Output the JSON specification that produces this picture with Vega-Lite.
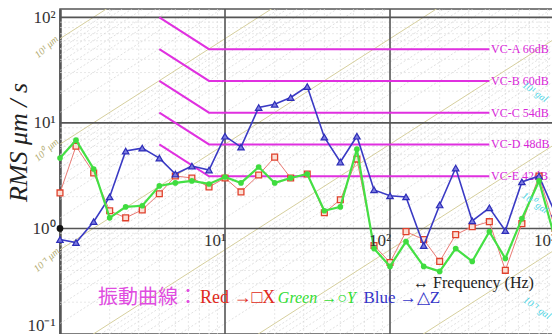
{
  "$schema": "https://vega.github.io/schema/vega-lite/v6.json",
  "width": 494,
  "height": 325,
  "autosize": {"type": "none"},
  "padding": {"left": 60, "top": 9, "right": 0, "bottom": 0},
  "background": "white",
  "config": {
    "view": {"stroke": "#555", "strokeWidth": 1.5},
    "font": "Liberation Serif"
  },
  "datasets": {
    "bands": [
      {"f": 1, "X": 2.17, "Y": 4.64, "Z": 0.785},
      {"f": 1.25, "X": 6.02, "Y": 6.86, "Z": 0.735},
      {"f": 1.6, "X": 3.35, "Y": 3.66, "Z": 1.16},
      {"f": 2, "X": 1.47, "Y": 1.26, "Z": 1.99},
      {"f": 2.5, "X": 1.26, "Y": 1.6, "Z": 5.41},
      {"f": 3.15, "X": 1.5, "Y": 1.64, "Z": 5.77},
      {"f": 4, "X": 2.13, "Y": 2.53, "Z": 4.64},
      {"f": 5, "X": 3.14, "Y": 2.7, "Z": 3.28},
      {"f": 6.3, "X": 3.01, "Y": 2.82, "Z": 3.9},
      {"f": 8, "X": 2.47, "Y": 2.64, "Z": 3.58},
      {"f": 10, "X": 3.01, "Y": 3.07, "Z": 7.48},
      {"f": 12.5, "X": 2.22, "Y": 2.7, "Z": 5.89},
      {"f": 16, "X": 3.21, "Y": 3.82, "Z": 14.0},
      {"f": 20, "X": 4.74, "Y": 2.7, "Z": 15.0},
      {"f": 25, "X": 3.01, "Y": 3.01, "Z": 17.4},
      {"f": 31.5, "X": 3.28, "Y": 3.28, "Z": 22.1},
      {"f": 40, "X": 1.41, "Y": 1.47, "Z": 7.33},
      {"f": 50, "X": 1.87, "Y": 1.6, "Z": 4.26},
      {"f": 63, "X": 4.54, "Y": 5.64, "Z": 7.48},
      {"f": 80, "X": 0.689, "Y": 0.645, "Z": 2.32},
      {"f": 100, "X": 0.476, "Y": 0.437, "Z": 2.04},
      {"f": 125, "X": 0.933, "Y": 0.751, "Z": 1.99},
      {"f": 160, "X": 0.785, "Y": 0.437, "Z": 0.689},
      {"f": 200, "X": 0.487, "Y": 0.392, "Z": 1.67},
      {"f": 250, "X": 0.874, "Y": 0.645, "Z": 3.74},
      {"f": 315, "X": 1.04, "Y": 0.487, "Z": 1.18},
      {"f": 400, "X": 1.16, "Y": 0.933, "Z": 1.57},
      {"f": 500, "X": 0.401, "Y": 0.519, "Z": 0.953},
      {"f": 630, "X": 1.11, "Y": 1.24, "Z": 2.76},
      {"f": 800, "X": 3.14, "Y": 2.82, "Z": 3.14},
      {"f": 1000, "X": 1.0, "Y": 0.8, "Z": 1.4}
    ],
    "vc": [
      {"vc": "A", "f": 4, "v": 100}, {"vc": "A", "f": 8, "v": 50}, {"vc": "A", "f": 400, "v": 50},
      {"vc": "B", "f": 4, "v": 50}, {"vc": "B", "f": 8, "v": 25}, {"vc": "B", "f": 400, "v": 25},
      {"vc": "C", "f": 4, "v": 25}, {"vc": "C", "f": 8, "v": 12.5}, {"vc": "C", "f": 400, "v": 12.5},
      {"vc": "D", "f": 4, "v": 12.5}, {"vc": "D", "f": 8, "v": 6.25}, {"vc": "D", "f": 400, "v": 6.25},
      {"vc": "E", "f": 4, "v": 6.25}, {"vc": "E", "f": 8, "v": 3.125}, {"vc": "E", "f": 400, "v": 3.125}
    ],
    "vcLabels": [
      {"label": "VC-A 66dB", "f": 410, "v": 50},
      {"label": "VC-B 60dB", "f": 410, "v": 25},
      {"label": "VC-C 54dB", "f": 410, "v": 12.5},
      {"label": "VC-D 48dB", "f": 410, "v": 6.25},
      {"label": "VC-E 42dB", "f": 410, "v": 3.125}
    ],
    "gridXMinor": [
      {"f": 2}, {"f": 3}, {"f": 4}, {"f": 5}, {"f": 6}, {"f": 7}, {"f": 8}, {"f": 9},
      {"f": 20}, {"f": 30}, {"f": 40}, {"f": 50}, {"f": 60}, {"f": 70}, {"f": 80}, {"f": 90},
      {"f": 200}, {"f": 300}, {"f": 400}, {"f": 500}, {"f": 600}, {"f": 700}, {"f": 800}, {"f": 900}
    ],
    "gridYMinor": [
      {"v": 0.2}, {"v": 0.3}, {"v": 0.4}, {"v": 0.5}, {"v": 0.6}, {"v": 0.7}, {"v": 0.8}, {"v": 0.9},
      {"v": 2}, {"v": 3}, {"v": 4}, {"v": 5}, {"v": 6}, {"v": 7}, {"v": 8}, {"v": 9},
      {"v": 20}, {"v": 30}, {"v": 40}, {"v": 50}, {"v": 60}, {"v": 70}, {"v": 80}, {"v": 90}
    ],
    "gridXMajor": [{"f": 10}, {"f": 100}],
    "gridYMajor": [{"v": 1}, {"v": 10}, {"v": 100}],
    "dispMajor": [
      {"d": 0.0001, "f1": 1, "f2": 1000, "v1": 0.00062832, "v2": 0.62832},
      {"d": 0.001, "f1": 1, "f2": 1000, "v1": 0.0062832, "v2": 6.2832},
      {"d": 0.01, "f1": 1, "f2": 1000, "v1": 0.062832, "v2": 62.832},
      {"d": 0.1, "f1": 1, "f2": 1000, "v1": 0.62832, "v2": 628.32},
      {"d": 1, "f1": 1, "f2": 1000, "v1": 6.2832, "v2": 6283.2},
      {"d": 10, "f1": 1, "f2": 1000, "v1": 62.832, "v2": 62832}
    ],
    "dispMinor": [
      {"f1": 1, "f2": 1000, "v1": 0.00012566, "v2": 0.12566}, {"f1": 1, "f2": 1000, "v1": 0.0001885, "v2": 0.1885}, {"f1": 1, "f2": 1000, "v1": 0.00025133, "v2": 0.25133}, {"f1": 1, "f2": 1000, "v1": 0.00031416, "v2": 0.31416},
      {"f1": 1, "f2": 1000, "v1": 0.00037699, "v2": 0.37699}, {"f1": 1, "f2": 1000, "v1": 0.00043982, "v2": 0.43982}, {"f1": 1, "f2": 1000, "v1": 0.00050265, "v2": 0.50265}, {"f1": 1, "f2": 1000, "v1": 0.00056549, "v2": 0.56549},
      {"f1": 1, "f2": 1000, "v1": 0.0012566, "v2": 1.2566}, {"f1": 1, "f2": 1000, "v1": 0.001885, "v2": 1.885}, {"f1": 1, "f2": 1000, "v1": 0.0025133, "v2": 2.5133}, {"f1": 1, "f2": 1000, "v1": 0.0031416, "v2": 3.1416},
      {"f1": 1, "f2": 1000, "v1": 0.0037699, "v2": 3.7699}, {"f1": 1, "f2": 1000, "v1": 0.0043982, "v2": 4.3982}, {"f1": 1, "f2": 1000, "v1": 0.0050265, "v2": 5.0265}, {"f1": 1, "f2": 1000, "v1": 0.0056549, "v2": 5.6549},
      {"f1": 1, "f2": 1000, "v1": 0.012566, "v2": 12.566}, {"f1": 1, "f2": 1000, "v1": 0.01885, "v2": 18.85}, {"f1": 1, "f2": 1000, "v1": 0.025133, "v2": 25.133}, {"f1": 1, "f2": 1000, "v1": 0.031416, "v2": 31.416},
      {"f1": 1, "f2": 1000, "v1": 0.037699, "v2": 37.699}, {"f1": 1, "f2": 1000, "v1": 0.043982, "v2": 43.982}, {"f1": 1, "f2": 1000, "v1": 0.050265, "v2": 50.265}, {"f1": 1, "f2": 1000, "v1": 0.056549, "v2": 56.549},
      {"f1": 1, "f2": 1000, "v1": 0.12566, "v2": 125.66}, {"f1": 1, "f2": 1000, "v1": 0.1885, "v2": 188.5}, {"f1": 1, "f2": 1000, "v1": 0.25133, "v2": 251.33}, {"f1": 1, "f2": 1000, "v1": 0.31416, "v2": 314.16},
      {"f1": 1, "f2": 1000, "v1": 0.37699, "v2": 376.99}, {"f1": 1, "f2": 1000, "v1": 0.43982, "v2": 439.82}, {"f1": 1, "f2": 1000, "v1": 0.50265, "v2": 502.65}, {"f1": 1, "f2": 1000, "v1": 0.56549, "v2": 565.49},
      {"f1": 1, "f2": 1000, "v1": 1.2566, "v2": 1256.6}, {"f1": 1, "f2": 1000, "v1": 1.885, "v2": 1885}, {"f1": 1, "f2": 1000, "v1": 2.5133, "v2": 2513.3}, {"f1": 1, "f2": 1000, "v1": 3.1416, "v2": 3141.6},
      {"f1": 1, "f2": 1000, "v1": 3.7699, "v2": 3769.9}, {"f1": 1, "f2": 1000, "v1": 4.3982, "v2": 4398.2}, {"f1": 1, "f2": 1000, "v1": 5.0265, "v2": 5026.5}, {"f1": 1, "f2": 1000, "v1": 5.6549, "v2": 5654.9},
      {"f1": 1, "f2": 1000, "v1": 12.566, "v2": 12566}, {"f1": 1, "f2": 1000, "v1": 18.85, "v2": 18850}, {"f1": 1, "f2": 1000, "v1": 25.133, "v2": 25133}, {"f1": 1, "f2": 1000, "v1": 31.416, "v2": 31416},
      {"f1": 1, "f2": 1000, "v1": 37.699, "v2": 37699}, {"f1": 1, "f2": 1000, "v1": 43.982, "v2": 43982}, {"f1": 1, "f2": 1000, "v1": 50.265, "v2": 50265}, {"f1": 1, "f2": 1000, "v1": 56.549, "v2": 56549}
    ]
  },
  "layer": [
    {
      "data": {"name": "vc"},
      "mark": {"type": "line", "clip": true, "opacity": 0},
      "encoding": {
        "x": {
          "field": "f", "type": "quantitative",
          "scale": {"type": "log", "domain": [1, 986]},
          "axis": {"labels": false, "ticks": false, "domain": false, "grid": false, "title": null}
        },
        "y": {
          "field": "v", "type": "quantitative",
          "scale": {"type": "log", "domain": [0.1, 120]},
          "axis": {
            "values": [0.1, 1, 10, 100],
            "labelExpr": "datum.value == 100 ? '10²' : datum.value == 10 ? '10¹' : datum.value == 1 ? '10⁰' : '10⁻¹'",
            "labelFont": "Liberation Serif", "labelFontSize": 17, "labelColor": "#333",
            "labelPadding": 5, "labelFlush": true, "labelFlushOffset": 0,
            "ticks": false, "domain": true, "domainColor": "#555", "domainWidth": 2.5,
            "grid": false,
            "title": "RMS μm / s",
            "titleFont": "Liberation Serif", "titleFontStyle": "italic", "titleFontWeight": "normal",
            "titleFontSize": 26, "titleColor": "#222",
            "titleAngle": -90, "titleAlign": "center", "titleBaseline": "middle",
            "titleX": -42, "titleY": 133
          }
        },
        "detail": {"field": "vc"}
      }
    },
    {
      "data": {"name": "gridXMinor"},
      "mark": {"type": "rule", "color": "#dedede", "strokeWidth": 0.7, "strokeDash": [2, 2]},
      "encoding": {
        "x": {"field": "f", "type": "quantitative", "scale": {"type": "log", "domain": [1, 986]}}
      }
    },
    {
      "data": {"name": "gridYMinor"},
      "mark": {"type": "rule", "color": "#dedede", "strokeWidth": 0.7, "strokeDash": [2, 2]},
      "encoding": {
        "y": {"field": "v", "type": "quantitative", "scale": {"type": "log", "domain": [0.1, 120]}}
      }
    },
    {
      "data": {"name": "dispMinor"},
      "mark": {"type": "rule", "clip": true, "color": "#d2d2d2", "strokeWidth": 0.7, "strokeDash": [2, 2]},
      "encoding": {
        "x": {"field": "f1", "type": "quantitative", "scale": {"type": "log", "domain": [1, 986]}},
        "x2": {"field": "f2"},
        "y": {"field": "v1", "type": "quantitative", "scale": {"type": "log", "domain": [0.1, 120]}},
        "y2": {"field": "v2"}
      }
    },
    {
      "data": {"name": "dispMajor"},
      "mark": {"type": "rule", "clip": true, "color": "#d6cf9e", "strokeWidth": 1},
      "encoding": {
        "x": {"field": "f1", "type": "quantitative", "scale": {"type": "log", "domain": [1, 986]}},
        "x2": {"field": "f2"},
        "y": {"field": "v1", "type": "quantitative", "scale": {"type": "log", "domain": [0.1, 120]}},
        "y2": {"field": "v2"}
      }
    },
    {
      "data": {"name": "gridXMajor"},
      "mark": {"type": "rule", "color": "#555", "strokeWidth": 1.6},
      "encoding": {
        "x": {"field": "f", "type": "quantitative", "scale": {"type": "log", "domain": [1, 986]}}
      }
    },
    {
      "data": {"name": "gridYMajor"},
      "mark": {"type": "rule", "color": "#555", "strokeWidth": 1.6},
      "encoding": {
        "y": {"field": "v", "type": "quantitative", "scale": {"type": "log", "domain": [0.1, 120]}}
      }
    },
    {
      "data": {"name": "vc"},
      "mark": {"type": "line", "clip": true, "color": "#e030e0", "strokeWidth": 2},
      "encoding": {
        "x": {"field": "f", "type": "quantitative", "scale": {"type": "log", "domain": [1, 986]}},
        "y": {"field": "v", "type": "quantitative", "scale": {"type": "log", "domain": [0.1, 120]}},
        "detail": {"field": "vc"}
      }
    },
    {
      "data": {"name": "vcLabels"},
      "mark": {"type": "text", "align": "left", "baseline": "middle", "font": "Liberation Serif", "fontSize": 12, "color": "#d826d8"},
      "encoding": {
        "x": {"field": "f", "type": "quantitative", "scale": {"type": "log", "domain": [1, 986]}},
        "y": {"field": "v", "type": "quantitative", "scale": {"type": "log", "domain": [0.1, 120]}},
        "text": {"field": "label"}
      }
    },
    {
      "data": {"name": "bands"},
      "mark": {"type": "line", "clip": true, "color": "#ea7a74", "strokeWidth": 1},
      "encoding": {
        "x": {"field": "f", "type": "quantitative", "scale": {"type": "log", "domain": [1, 986]}},
        "y": {"field": "X", "type": "quantitative", "scale": {"type": "log", "domain": [0.1, 120]}}
      }
    },
    {
      "data": {"name": "bands"},
      "mark": {"type": "point", "shape": "square", "filled": true, "size": 34, "fill": "#fbe0d6", "stroke": "#e0412c", "strokeWidth": 1.3, "opacity": 1},
      "encoding": {
        "x": {"field": "f", "type": "quantitative", "scale": {"type": "log", "domain": [1, 986]}},
        "y": {"field": "X", "type": "quantitative", "scale": {"type": "log", "domain": [0.1, 120]}}
      }
    },
    {
      "data": {"name": "bands"},
      "mark": {"type": "line", "clip": true, "color": "#3a3ac4", "strokeWidth": 1.6},
      "encoding": {
        "x": {"field": "f", "type": "quantitative", "scale": {"type": "log", "domain": [1, 986]}},
        "y": {"field": "Z", "type": "quantitative", "scale": {"type": "log", "domain": [0.1, 120]}}
      }
    },
    {
      "data": {"name": "bands"},
      "mark": {"type": "point", "shape": "triangle-up", "filled": true, "size": 42, "fill": "#7c7ce0", "stroke": "#2e2eb8", "strokeWidth": 1.2, "opacity": 1},
      "encoding": {
        "x": {"field": "f", "type": "quantitative", "scale": {"type": "log", "domain": [1, 986]}},
        "y": {"field": "Z", "type": "quantitative", "scale": {"type": "log", "domain": [0.1, 120]}}
      }
    },
    {
      "data": {"name": "bands"},
      "mark": {"type": "line", "clip": true, "color": "#44e044", "strokeWidth": 2.2},
      "encoding": {
        "x": {"field": "f", "type": "quantitative", "scale": {"type": "log", "domain": [1, 986]}},
        "y": {"field": "Y", "type": "quantitative", "scale": {"type": "log", "domain": [0.1, 120]}}
      }
    },
    {
      "data": {"name": "bands"},
      "mark": {"type": "point", "shape": "circle", "filled": true, "size": 32, "color": "#3fdc3f", "opacity": 1},
      "encoding": {
        "x": {"field": "f", "type": "quantitative", "scale": {"type": "log", "domain": [1, 986]}},
        "y": {"field": "Y", "type": "quantitative", "scale": {"type": "log", "domain": [0.1, 120]}}
      }
    },
    {
      "data": {"values": [{"f": 1, "v": 1}]},
      "mark": {"type": "point", "shape": "circle", "filled": true, "size": 45, "color": "#111", "opacity": 1},
      "encoding": {
        "x": {"field": "f", "type": "quantitative", "scale": {"type": "log", "domain": [1, 986]}},
        "y": {"field": "v", "type": "quantitative", "scale": {"type": "log", "domain": [0.1, 120]}}
      }
    },
    {
      "data": {"values": [
        {"f": 10, "v": 0.76, "label": "10¹"},
        {"f": 100, "v": 0.76, "label": "10²"},
        {"f": 1000, "v": 0.76, "label": "10³"}
      ]},
      "mark": {"type": "text", "align": "right", "baseline": "middle", "dx": 1, "font": "Liberation Serif", "fontSize": 17, "color": "#333"},
      "encoding": {
        "x": {"field": "f", "type": "quantitative", "scale": {"type": "log", "domain": [1, 986]}},
        "y": {"field": "v", "type": "quantitative", "scale": {"type": "log", "domain": [0.1, 120]}},
        "text": {"field": "label"}
      }
    },
    {
      "data": {"values": [
        {"f": 0.83, "v": 52.4, "label": "10¹ μm"},
        {"f": 0.83, "v": 5.54, "label": "10⁰ μm"},
        {"f": 0.83, "v": 0.502, "label": "10⁻¹ μm"}
      ]},
      "mark": {"type": "text", "align": "center", "baseline": "middle", "angle": -42, "font": "Liberation Serif", "fontStyle": "italic", "fontSize": 10, "color": "#b3ab70"},
      "encoding": {
        "x": {"field": "f", "type": "quantitative", "scale": {"type": "log", "domain": [1, 986]}},
        "y": {"field": "v", "type": "quantitative", "scale": {"type": "log", "domain": [0.1, 120]}},
        "text": {"field": "label"}
      }
    },
    {
      "data": {"values": [
        {"f": 757, "v": 19.6, "label": "10¹ gal"},
        {"f": 757, "v": 1.74, "label": "10⁰ gal"},
        {"f": 779, "v": 0.176, "label": "10⁻¹ gal"}
      ]},
      "mark": {"type": "text", "align": "center", "baseline": "middle", "angle": 35, "font": "Liberation Serif", "fontStyle": "italic", "fontSize": 10, "color": "#4fd6e6"},
      "encoding": {
        "x": {"field": "f", "type": "quantitative", "scale": {"type": "log", "domain": [1, 986]}},
        "y": {"field": "v", "type": "quantitative", "scale": {"type": "log", "domain": [0.1, 120]}},
        "text": {"field": "label"}
      }
    },
    {
      "data": {"values": [{"f": 138, "v": 0.304, "label": "↔ Frequency (Hz)"}]},
      "mark": {"type": "text", "align": "left", "baseline": "middle", "font": "Liberation Serif", "fontSize": 16, "color": "#222"},
      "encoding": {
        "x": {"field": "f", "type": "quantitative", "scale": {"type": "log", "domain": [1, 986]}},
        "y": {"field": "v", "type": "quantitative", "scale": {"type": "log", "domain": [0.1, 120]}},
        "text": {"field": "label"}
      }
    },
    {
      "data": {"values": [{"f": 1.7, "v": 0.219, "label": "振動曲線："}]},
      "mark": {"type": "text", "align": "left", "baseline": "middle", "font": "Noto Sans CJK JP", "fontSize": 20, "color": "#e04ce0"},
      "encoding": {
        "x": {"field": "f", "type": "quantitative", "scale": {"type": "log", "domain": [1, 986]}},
        "y": {"field": "v", "type": "quantitative", "scale": {"type": "log", "domain": [0.1, 120]}},
        "text": {"field": "label"}
      }
    },
    {
      "data": {"values": [{"f": 7.05, "v": 0.219, "label": "Red →□X"}]},
      "mark": {"type": "text", "align": "left", "baseline": "middle", "font": "Liberation Serif", "fontSize": 18, "color": "#e02a20"},
      "encoding": {
        "x": {"field": "f", "type": "quantitative", "scale": {"type": "log", "domain": [1, 986]}},
        "y": {"field": "v", "type": "quantitative", "scale": {"type": "log", "domain": [0.1, 120]}},
        "text": {"field": "label"}
      }
    },
    {
      "data": {"values": [{"f": 20.9, "v": 0.219, "label": "Green →○Y"}]},
      "mark": {"type": "text", "align": "left", "baseline": "middle", "font": "Liberation Serif", "fontStyle": "italic", "fontSize": 16, "color": "#33dd33"},
      "encoding": {
        "x": {"field": "f", "type": "quantitative", "scale": {"type": "log", "domain": [1, 986]}},
        "y": {"field": "v", "type": "quantitative", "scale": {"type": "log", "domain": [0.1, 120]}},
        "text": {"field": "label"}
      }
    },
    {
      "data": {"values": [{"f": 69, "v": 0.219, "label": "Blue →△Z"}]},
      "mark": {"type": "text", "align": "left", "baseline": "middle", "font": "Liberation Serif", "fontSize": 17, "color": "#3434c8"},
      "encoding": {
        "x": {"field": "f", "type": "quantitative", "scale": {"type": "log", "domain": [1, 986]}},
        "y": {"field": "v", "type": "quantitative", "scale": {"type": "log", "domain": [0.1, 120]}},
        "text": {"field": "label"}
      }
    }
  ]
}
